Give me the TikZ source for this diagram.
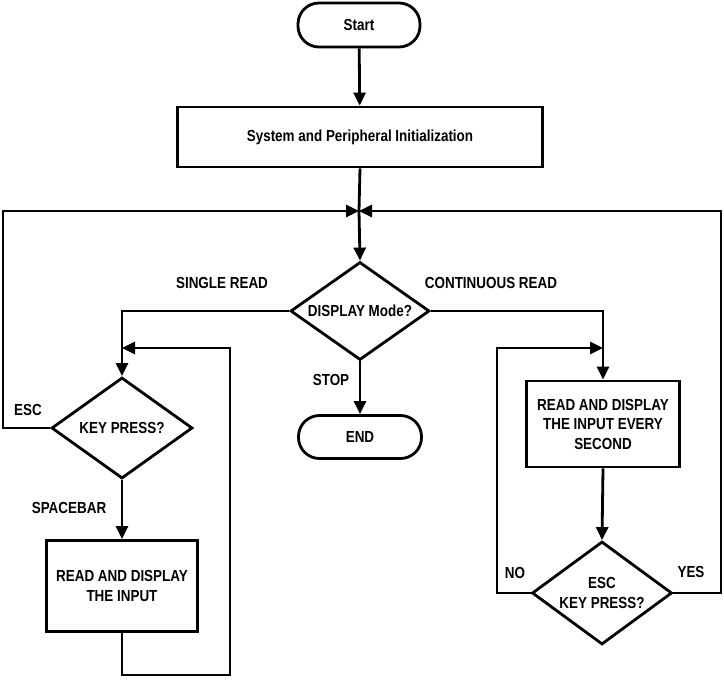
\documentclass[tikz,border=0pt]{standalone}
\usepackage{fontspec}
\setmainfont[FakeStretch=0.84]{Liberation Sans}
\usetikzlibrary{shapes.geometric,arrows.meta}
\begin{document}
\begin{tikzpicture}[x=1pt,y=-1pt,
  every node/.style={font=\bfseries\fontsize{16}{19.5}\selectfont, align=center},
  base/.style={draw, line width=2.8pt, inner sep=0pt},
  term/.style={base, rounded corners=21pt},
  proc/.style={base},
  dec/.style={base, diamond},
  lbl/.style={font=\bfseries\fontsize{16}{19.5}\selectfont},
  line/.style={line width=2.8pt},
  arr/.style={line, -{Triangle[length=13pt,width=12pt]}}]
\useasboundingbox (0,0) rectangle (724,680);

\node[term, minimum width=122pt, minimum height=44pt] (start) at (359,25) {Start};
\node[proc, minimum width=365pt, minimum height=60pt] (init) at (360,137) {System and Peripheral Initialization};
\node[dec, minimum width=139pt, minimum height=98pt,
  label={[align=center]center:DISPLAY Mode?}] (disp) at (360,311) {};
\node[term, minimum width=123pt, minimum height=43pt] (end) at (360,437) {END};
\node[dec, minimum width=141pt, minimum height=101pt,
  label={[align=center]center:KEY PRESS?}] (keyp) at (122,428) {};
\node[proc, minimum width=151pt, minimum height=91pt] (rd1) at (122,586) {READ AND DISPLAY\\THE INPUT};
\node[proc, minimum width=153pt, minimum height=86pt] (rd2) at (603,424) {READ AND DISPLAY\\THE INPUT EVERY\\SECOND};
\node[dec, minimum width=140pt, minimum height=103pt,
  label={[align=center]center:ESC\\KEY PRESS?}] (esc) at (602,593) {};

\coordinate (merge) at (359,211);
\coordinate (loop1) at (122,348);
\coordinate (loop2) at (603,348);

\draw[arr] (start) -- (init);
\draw[line] (init.south) -- (merge);
\draw[arr] (merge) -- (disp.north);
\draw[arr] (keyp.west) -- (3,428) -- (3,211) -- (merge);
\draw[arr] (esc.east) -- (721,593) -- (721,211) -- (merge);
\draw[arr] (disp.west) -- (122,311) -- (keyp.north);
\draw[arr] (disp.east) -- (603,311) -- (rd2.north);
\draw[arr] (disp.south) -- (end.north);
\draw[arr] (keyp.south) -- (rd1.north);
\draw[arr] (rd1.south) -- (122,675) -- (230,675) -- (230,348) -- (loop1);
\draw[arr] (rd2.south) -- (esc.north);
\draw[arr] (esc.west) -- (497,593) -- (497,348) -- (loop2);

\node[lbl] (l1) at (222,283) {SINGLE READ};
\node[lbl] (l2) at (491,283) {CONTINUOUS READ};
\node[lbl] (l3) at (331,380) {STOP};
\node[lbl] (l4) at (28,410) {ESC};
\node[lbl] (l5) at (69,508) {SPACEBAR};
\node[lbl] (l6) at (515,573) {NO};
\node[lbl] (l7) at (691,572) {YES};
\end{tikzpicture}
\end{document}
